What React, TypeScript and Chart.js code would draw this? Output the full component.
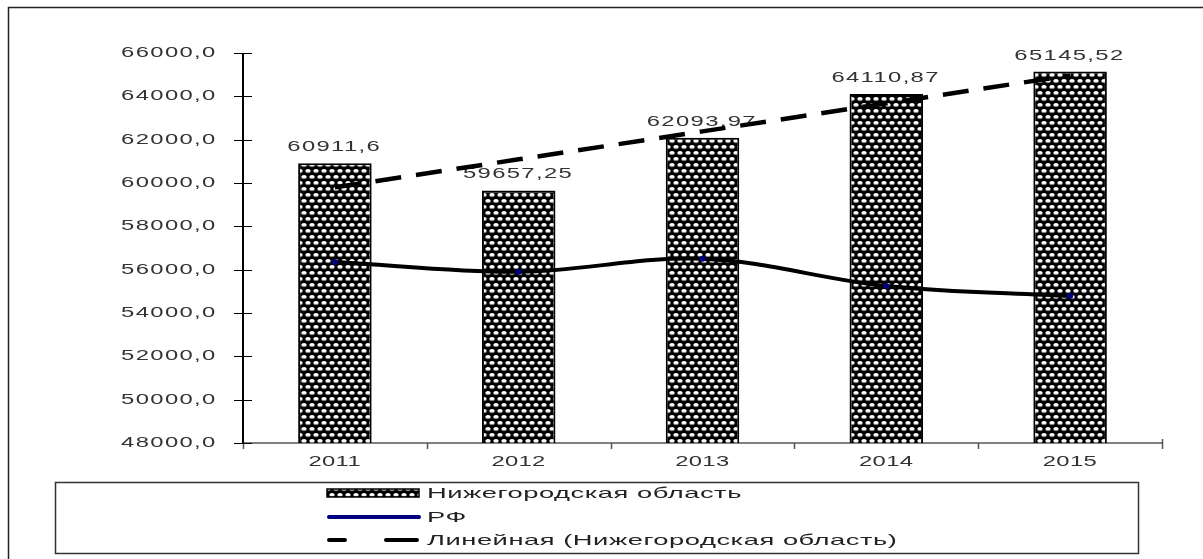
import React, { useEffect, useRef } from 'react';
import { Chart, registerables } from 'chart.js';
Chart.register(...registerables);

const years = ['2011', '2012', '2013', '2014', '2015'];
const regionValues = [60911.6, 59657.25, 62093.97, 64110.87, 65145.52];
const regionLabels = ['60911,6', '59657,25', '62093,97', '64110,87', '65145,52'];
const rfValues = [56350, 55900, 56500, 55250, 54780];
const trendValues = [59799.5, 61091.7, 62383.8, 63676.0, 64968.1];
const yTicks = [48000, 50000, 52000, 54000, 56000, 58000, 60000, 62000, 64000, 66000];
const legendLabels = ['Нижегородская область', 'РФ', 'Линейная (Нижегородская область)'];

const FONT = '"Liberation Sans", Arial, sans-serif';

function makePattern(ctx: CanvasRenderingContext2D): CanvasPattern | string {
  const c = document.createElement('canvas');
  c.width = 8;
  c.height = 12;
  const t = c.getContext('2d');
  if (!t) return '#333';
  t.fillStyle = '#000';
  t.fillRect(0, 0, 8, 12);
  const cell = (cx: number, cy: number) => {
    t.fillStyle = '#888';
    t.beginPath();
    t.ellipse(cx, cy + 1, 2.8, 1.7, 0, 0, Math.PI * 2);
    t.fill();
    t.fillStyle = '#fff';
    t.beginPath();
    t.ellipse(cx, cy, 2.6, 1.5, 0, 0, Math.PI * 2);
    t.fill();
  };
  cell(4, 2.5);
  cell(0, 8.5);
  cell(8, 8.5);
  return ctx.createPattern(c, 'repeat') || '#333';
}

function wideText(
  c: CanvasRenderingContext2D,
  text: string,
  x: number,
  y: number,
  align: CanvasTextAlign,
  baseline: CanvasTextBaseline,
  size: number,
  sx: number,
  spacing: number,
  color: string
) {
  c.save();
  c.translate(x, y);
  c.scale(sx, 1);
  c.font = `${size}px ${FONT}`;
  (c as any).letterSpacing = `${spacing}px`;
  c.fillStyle = color;
  c.textAlign = align;
  c.textBaseline = baseline;
  c.fillText(text, align === 'right' ? -spacing : align === 'center' ? -spacing / 2 : 0, 0);
  c.restore();
}

export default function App() {
  const ref = useRef<HTMLCanvasElement>(null);
  useEffect(() => {
    const canvas = ref.current;
    if (!canvas) return;
    const ctx = canvas.getContext('2d');
    if (!ctx) return;
    const pattern = makePattern(ctx);

    const framePlugin = {
      id: 'frameAxes',
      beforeDatasetsDraw(chart: any) {
        const c = chart.ctx;
        const a = chart.chartArea;
        c.save();
        // outer frame
        c.strokeStyle = '#222';
        c.lineWidth = 1.5;
        c.beginPath();
        c.moveTo(8.5, 559);
        c.lineTo(8.5, 7.5);
        c.lineTo(1203, 7.5);
        c.stroke();
        // x axis
        c.strokeStyle = '#555';
        c.lineWidth = 1.5;
        c.beginPath();
        c.moveTo(a.left, a.bottom);
        c.lineTo(a.right, a.bottom);
        const n = years.length;
        const w = (a.right - a.left) / n;
        for (let i = 0; i <= n; i++) {
          const x = Math.round(a.left + i * w) + 0.5;
          c.moveTo(x, a.bottom - (i === n ? 4 : 0));
          c.lineTo(x, a.bottom + 6);
        }
        c.stroke();
        // y axis
        const ys = chart.scales.y;
        c.strokeStyle = '#000';
        c.lineWidth = 2;
        c.beginPath();
        c.moveTo(a.left, a.top);
        c.lineTo(a.left, a.bottom);
        c.stroke();
        c.lineWidth = 1.2;
        c.beginPath();
        yTicks.forEach((v) => {
          const y = Math.round(ys.getPixelForValue(v)) + 0.5;
          c.moveTo(a.left - 9, y);
          c.lineTo(a.left + 9, y);
        });
        c.stroke();
        c.restore();
        // tick labels
        yTicks.forEach((v) => {
          wideText(c, v.toFixed(1).replace('.', ','), a.left - 25, ys.getPixelForValue(v), 'right', 'middle', 14, 1.7, 0.8, '#333');
        });
        const xs = chart.scales.x;
        years.forEach((y, i) => {
          wideText(c, y, xs.getPixelForTick(i), a.bottom + 19, 'center', 'middle', 14, 1.7, 0.2, '#333');
        });
      },
      afterDatasetDraw(chart: any, args: any) {
        if (args.index !== 0) return;
        const c = chart.ctx;
        const meta = chart.getDatasetMeta(0);
        meta.data.forEach((bar: any, i: number) => {
          wideText(c, regionLabels[i], bar.x, bar.y - 12, 'center', 'alphabetic', 14, 1.7, 0.8, '#333');
        });
      },
      afterDraw(chart: any) {
        const c = chart.ctx;
        c.save();
        c.strokeStyle = '#333';
        c.lineWidth = 1.5;
        c.strokeRect(55.5, 482.5, 1083, 71);
        const sx = 327;
        const ex = 419;
        const tx = 427;
        const rows = [493, 517, 540];
        // bar symbol
        c.fillStyle = pattern;
        c.fillRect(sx, rows[0] - 4, ex - sx, 8);
        c.strokeStyle = '#000';
        c.lineWidth = 1.5;
        c.strokeRect(sx, rows[0] - 4, ex - sx, 8);
        // RF line
        c.strokeStyle = '#000080';
        c.lineWidth = 4;
        c.lineCap = 'round';
        c.beginPath();
        c.moveTo(sx + 2, rows[1]);
        c.lineTo(ex, rows[1]);
        c.stroke();
        // dashed
        c.strokeStyle = '#000';
        c.beginPath();
        c.moveTo(sx + 2, rows[2]);
        c.lineTo(345, rows[2]);
        c.moveTo(386, rows[2]);
        c.lineTo(ex - 2, rows[2]);
        c.stroke();
        c.restore();
        legendLabels.forEach((t, i) => wideText(c, t, tx, rows[i] + 1, 'left', 'middle', 15, 1.82, 0.3, '#222'));
      },
    };

    const chart = new Chart(ctx, {
      type: 'bar',
      data: {
        labels: years,
        datasets: [
          {
            type: 'bar',
            label: legendLabels[0],
            data: regionValues,
            backgroundColor: pattern as any,
            borderColor: '#000',
            borderWidth: 2,
            borderSkipped: false,
            categoryPercentage: 1,
            barPercentage: 0.4,
            order: 3,
          },
          {
            type: 'line',
            label: legendLabels[1],
            data: rfValues,
            borderColor: '#000',
            borderWidth: 4,
            tension: 0.35,
            pointRadius: 3,
            pointBackgroundColor: '#000080',
            pointBorderColor: '#000080',
            pointBorderWidth: 0,
            order: 2,
          },
          {
            type: 'line',
            label: legendLabels[2],
            data: trendValues,
            borderColor: '#000',
            borderWidth: 4.5,
            borderDash: [26, 15],
            pointRadius: 0,
            tension: 0,
            order: 1,
          },
        ],
      },
      options: {
        responsive: false,
        animation: false,
        layout: { padding: { left: 143, top: 53, right: 41, bottom: 76 } },
        plugins: { legend: { display: false }, tooltip: { enabled: false } },
        scales: {
          x: {
            grid: { display: false },
            border: { display: false },
            ticks: { display: false },
            afterFit: (s: any) => {
              s.height = 40;
            },
          },
          y: {
            min: 48000,
            max: 66000,
            grid: { display: false },
            border: { display: false },
            afterBuildTicks: (s: any) => {
              s.ticks = yTicks.map((v) => ({ value: v }));
            },
            ticks: { display: false },
            afterFit: (s: any) => {
              s.width = 100;
            },
          },
        },
      },
      plugins: [framePlugin],
    });
    return () => chart.destroy();
  }, []);

  return (
    <div style={{ position: 'absolute', left: 0, top: 0, width: 1203, height: 559, background: '#fff' }}>
      <canvas ref={ref} width={1203} height={559} style={{ display: 'block', width: 1203, height: 559 }} />
    </div>
  );
}
